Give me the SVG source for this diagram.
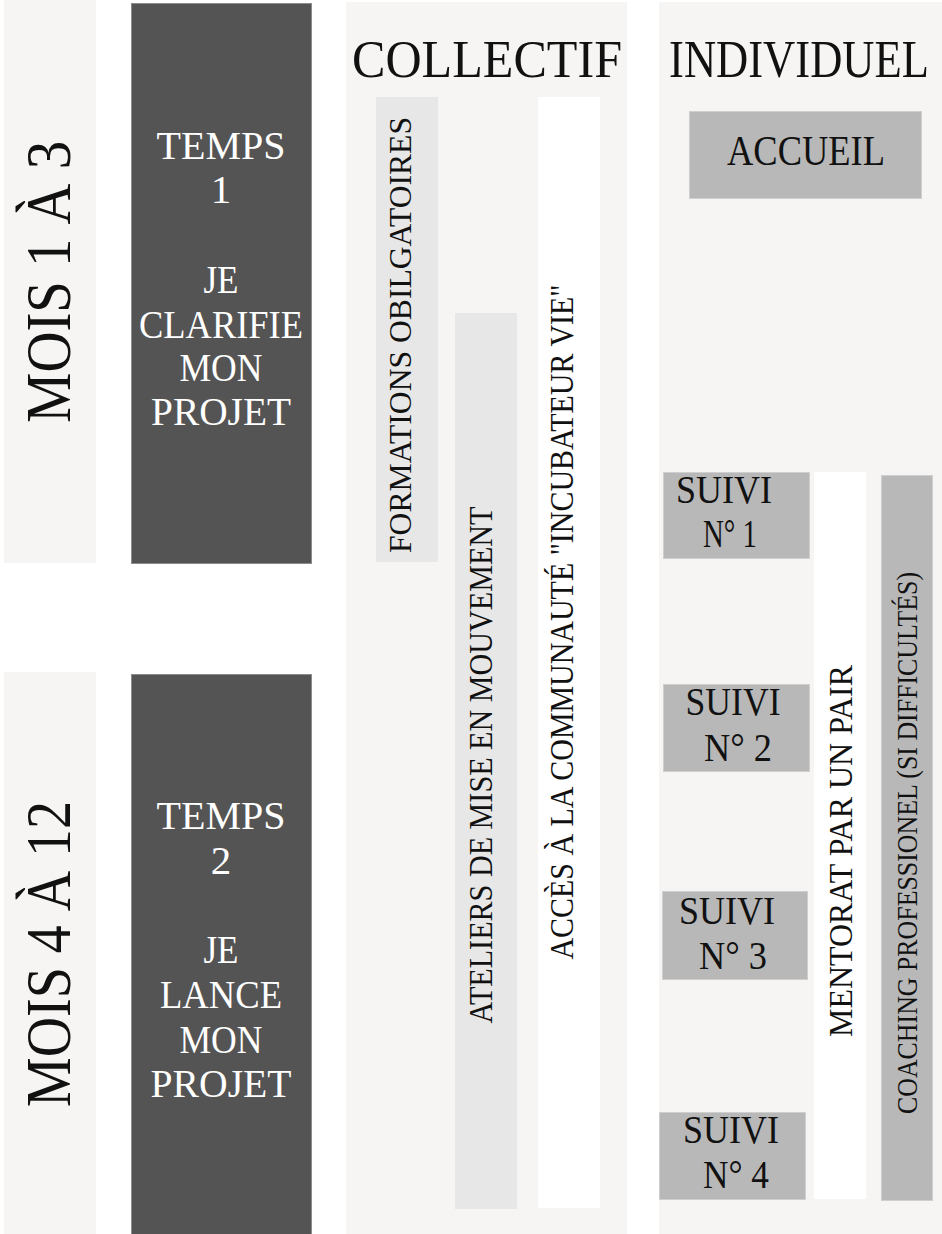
<svg xmlns="http://www.w3.org/2000/svg" width="942" height="1234" viewBox="0 0 942 1234">
<style>
.bg{fill:#f6f5f3}
.dark{fill:#545454;stroke:#8c8c8c;stroke-width:1}
.light{fill:#e7e7e7}
.mid{fill:#b8b8b8;stroke:#cfcfcf;stroke-width:1}
.white{fill:#ffffff}
text{font-family:"Liberation Serif","Times New Roman",serif;fill:#111111}
.w{fill:#ffffff;font-size:41px;text-anchor:middle}
.h{font-size:53px;text-anchor:middle}
.b{font-size:43px;text-anchor:middle}
.s{font-size:40px;text-anchor:middle}
.v{text-anchor:middle}
</style>
<rect width="942" height="1234" fill="#ffffff"/>
<g id="mois1">
<rect class="bg" x="4" y="0" width="92" height="563"/>
<text class="v" font-size="63" transform="translate(70,282) rotate(-90)" textLength="282" lengthAdjust="spacingAndGlyphs">MOIS 1 À 3</text>
</g>
<g id="mois2">
<rect class="bg" x="4" y="672" width="92" height="562"/>
<text class="v" font-size="63" transform="translate(70,954) rotate(-90)" textLength="306" lengthAdjust="spacingAndGlyphs">MOIS 4 À 12</text>
</g>
<g id="temps1">
<rect class="dark" x="131.5" y="3.5" width="180" height="560"/>
<text class="w" x="221" y="159" textLength="129" lengthAdjust="spacingAndGlyphs">TEMPS</text>
<text class="w" x="221" y="203">1</text>
<text class="w" x="221" y="293" textLength="35" lengthAdjust="spacingAndGlyphs">JE</text>
<text class="w" x="221" y="338" textLength="164" lengthAdjust="spacingAndGlyphs">CLARIFIE</text>
<text class="w" x="221" y="381" textLength="83" lengthAdjust="spacingAndGlyphs">MON</text>
<text class="w" x="221" y="425" textLength="140" lengthAdjust="spacingAndGlyphs">PROJET</text>
</g>
<g id="temps2">
<rect class="dark" x="131.5" y="674.5" width="180" height="565"/>
<text class="w" x="221" y="829" textLength="129" lengthAdjust="spacingAndGlyphs">TEMPS</text>
<text class="w" x="221" y="874">2</text>
<text class="w" x="221" y="963" textLength="35" lengthAdjust="spacingAndGlyphs">JE</text>
<text class="w" x="221" y="1008" textLength="122" lengthAdjust="spacingAndGlyphs">LANCE</text>
<text class="w" x="221" y="1053" textLength="83" lengthAdjust="spacingAndGlyphs">MON</text>
<text class="w" x="221" y="1097" textLength="141" lengthAdjust="spacingAndGlyphs">PROJET</text>
</g>
<g id="collectif">
<rect class="bg" x="346" y="2" width="281" height="1232"/>
<text class="h" x="487" y="77" textLength="270" lengthAdjust="spacingAndGlyphs">COLLECTIF</text>
</g>
<g id="formations">
<rect class="light" x="376" y="97" width="62" height="465"/>
<text class="v" font-size="32" transform="translate(411,335) rotate(-90)" textLength="436" lengthAdjust="spacingAndGlyphs">FORMATIONS OBILGATOIRES</text>
</g>
<g id="ateliers">
<rect class="light" x="455" y="313" width="62" height="896"/>
<text class="v" font-size="34" transform="translate(492,765) rotate(-90)" textLength="517" lengthAdjust="spacingAndGlyphs">ATELIERS DE MISE EN MOUVEMENT</text>
</g>
<g id="communaute">
<rect class="white" x="538" y="97" width="62" height="1111"/>
<text class="v" font-size="34" transform="translate(573,622) rotate(-90)" textLength="675" lengthAdjust="spacingAndGlyphs">ACCÈS À LA COMMUNAUTÉ "INCUBATEUR VIE"</text>
</g>
<g id="individuel">
<rect class="bg" x="659" y="2" width="283" height="1232"/>
<text class="h" transform="translate(799,77) scale(0.841,1)">INDIVIDUEL</text>
</g>
<g id="accueil">
<rect class="mid" x="689.5" y="111.5" width="232" height="87"/>
<text class="b" x="806" y="165" textLength="158" lengthAdjust="spacingAndGlyphs">ACCUEIL</text>
</g>
<g id="suivi1">
<rect class="mid" x="663.5" y="472.5" width="146" height="86"/>
<text class="s" x="724" y="503" textLength="96" lengthAdjust="spacingAndGlyphs">SUIVI</text>
<text class="s" x="730" y="547" textLength="54" lengthAdjust="spacingAndGlyphs">N° 1</text>
</g>
<g id="suivi2">
<rect class="mid" x="663.5" y="684.5" width="146" height="87"/>
<text class="s" x="733" y="715" textLength="95" lengthAdjust="spacingAndGlyphs">SUIVI</text>
<text class="s" x="738" y="761" textLength="68" lengthAdjust="spacingAndGlyphs">N° 2</text>
</g>
<g id="suivi3">
<rect class="mid" x="662.5" y="891.5" width="145" height="88"/>
<text class="s" x="727" y="924" textLength="96" lengthAdjust="spacingAndGlyphs">SUIVI</text>
<text class="s" x="733" y="969" textLength="68" lengthAdjust="spacingAndGlyphs">N° 3</text>
</g>
<g id="suivi4">
<rect class="mid" x="659.5" y="1112.5" width="146" height="87"/>
<text class="s" x="731" y="1143" textLength="96" lengthAdjust="spacingAndGlyphs">SUIVI</text>
<text class="s" x="736" y="1188" textLength="66" lengthAdjust="spacingAndGlyphs">N° 4</text>
</g>
<g id="mentorat">
<rect class="white" x="814" y="472" width="52" height="727"/>
<text class="v" font-size="33" transform="translate(852,851) rotate(-90)" textLength="372" lengthAdjust="spacingAndGlyphs">MENTORAT PAR UN PAIR</text>
</g>
<g id="coaching">
<rect class="mid" x="881.5" y="475.5" width="51" height="725"/>
<text class="v" font-size="30" transform="translate(917,843) rotate(-90)" textLength="542" lengthAdjust="spacingAndGlyphs">COACHING PROFESSIONEL (SI DIFFICULTÉS)</text>
</g>
<g id="connectors"></g>
</svg>
